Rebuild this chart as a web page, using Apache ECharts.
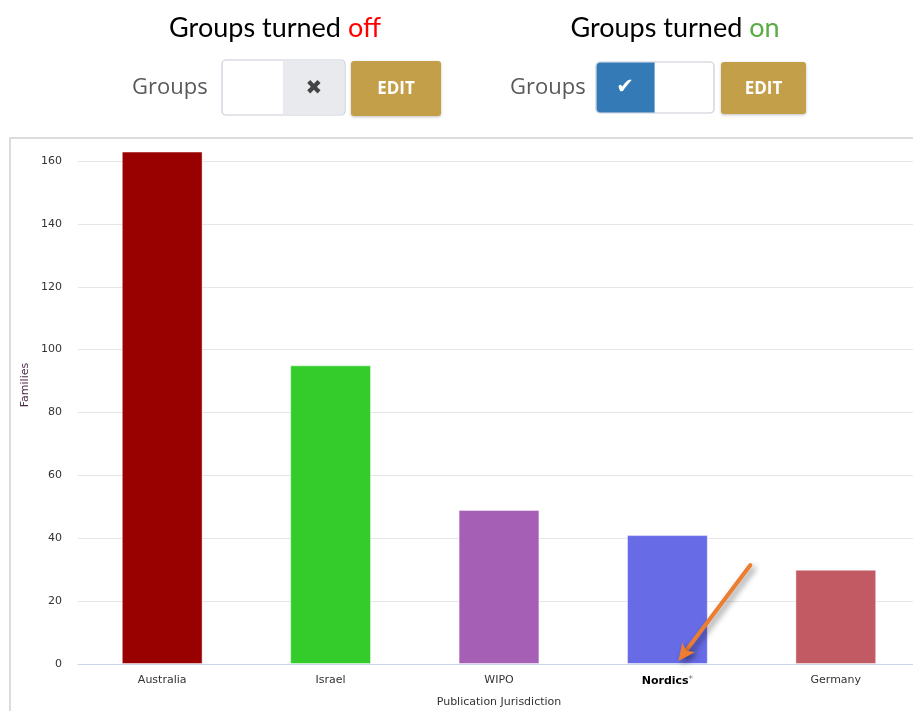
<!DOCTYPE html>
<html>
<head>
<meta charset="utf-8">
<script src="https://cdn.jsdelivr.net/npm/echarts@6/dist/echarts.min.js"></script>
<style>
html,body{margin:0;padding:0;background:#fff;overflow:hidden;}
#chart{width:913px;height:711px;}
</style>
</head>
<body>
<div id="chart"></div>
<script>
var categories = ['Australia', 'Israel', 'WIPO', 'Nordics', 'Germany'];
var families = [163, 95, 49, 41, 30];
var barColors = ['#990000', '#33cc2b', '#a55fb5', '#676ce6', '#c25a63'];
var yTicks = [0, 20, 40, 60, 80, 100, 120, 140, 160];

var chart = echarts.init(document.getElementById('chart'));
var FONT = 'DejaVu Sans';

function toggleGroup(labelX, boxX, boxW, splitW, editX, editW, on) {
  var els = [];
  els.push({type:'text', left:labelX, top:77, style:{text:'Groups', font:'22px "Open Sans"', fill:'#595959'}});
  els.push({type:'rect', shape:{x:boxX, y:on?62:60, width:boxW, height:on?51:55, r:4},
    style:{fill:'#ffffff', stroke:'#c8ccd8', lineWidth:1.2}});
  if (on) {
    els.push({type:'rect', shape:{x:boxX+0.6, y:62.6, width:splitW, height:49.8, r:[4,0,0,4]}, style:{fill:'#337ab7'}});
    els.push({type:'text', style:{text:'\u2714', x:boxX+splitW/2, y:88, align:'center', verticalAlign:'middle', font:'bold 21px "DejaVu Sans"', fill:'#ffffff'}});
  } else {
    els.push({type:'rect', shape:{x:boxX+splitW, y:60.6, width:boxW-splitW-0.6, height:53.8, r:[0,4,4,0]}, style:{fill:'#e9eaee'}});
    els.push({type:'text', style:{text:'\u2716', x:boxX+splitW+(boxW-splitW)/2, y:89, align:'center', verticalAlign:'middle', font:'20px "DejaVu Sans"', fill:'#444444'}});
  }
  els.push({type:'rect', shape:{x:editX, y:on?62:61, width:editW, height:on?52:55, r:3},
    style:{fill:'#c49f4a', shadowBlur:3, shadowColor:'rgba(0,0,0,0.25)', shadowOffsetY:1}});
  els.push({type:'text', style:{text:'EDIT', x:editX+editW/2, y:89, align:'center', verticalAlign:'middle', font:'bold 17px "Open Sans"', fill:'#ffffff'}});
  return els;
}

var graphics = [
  {type:'rect', z:-10, shape:{x:10, y:138, width:1000, height:700}, style:{fill:'none', stroke:'#dcdcdc', lineWidth:2}},
  {type:'text', style:{x:275, y:28, align:'center', verticalAlign:'middle',
    rich:{a:{font:'27px Lato', fill:'#000000'}, b:{font:'27px Lato', fill:'#ff0000'}},
    text:'{a|Groups turned }{b|off}'}},
  {type:'text', style:{x:675, y:28, align:'center', verticalAlign:'middle',
    rich:{a:{font:'27px Lato', fill:'#000000'}, b:{font:'27px Lato', fill:'#5aac44'}},
    text:'{a|Groups turned }{b|on}'}},
  {type:'text', rotation:Math.PI/2, x:25, y:385,
    style:{text:'Families', align:'center', verticalAlign:'middle', font:'11px "DejaVu Sans"', fill:'#4b2a46'}}
].concat(toggleGroup(132, 222, 123, 61, 351, 90, false))
 .concat(toggleGroup(510, 596, 118, 58, 721, 85, true));

chart.setOption({
  animation:false,
  grid:{left:78, width:842, top:161, height:503, containLabel:false, outerBoundsMode:'none'},
  xAxis:{
    type:'category', data:categories,
    name:'Publication Jurisdiction', nameLocation:'middle', nameGap:33,
    nameTextStyle:{fontFamily:FONT, fontSize:11, color:'#333333'},
    axisLine:{lineStyle:{color:'#ccd6eb', width:1}},
    axisTick:{show:false},
    axisLabel:{fontFamily:FONT, fontSize:11, color:'#333333', margin:11,
      formatter:function(v){ return v === 'Nordics' ? '{b|Nordics}{s|*}' : v; },
      rich:{b:{fontFamily:FONT, fontSize:11, fontWeight:'bold', color:'#000000'},
            s:{fontFamily:FONT, fontSize:9, color:'#777777', verticalAlign:'top', padding:[0,0,3,0]}}}
  },
  yAxis:{
    type:'value', min:yTicks[0], max:yTicks[yTicks.length-1], interval:yTicks[1]-yTicks[0],
    axisLine:{show:false}, axisTick:{show:false},
    axisLabel:{fontFamily:FONT, fontSize:11, color:'#333333', margin:16},
    splitLine:{lineStyle:{color:'#e6e6e6', width:1}}
  },
  series:[{
    type:'bar', data:families.map(function(v,i){ return {value:v, itemStyle:{color:barColors[i]}}; }),
    barWidth:'48%', clip:false,
    itemStyle:{borderColor:'rgba(255,255,255,0.45)', borderWidth:1}
  }],
  graphic:graphics
});

// orange annotation arrow pointing at the Nordics bar base
var base = chart.convertToPixel({xAxisIndex:0, yAxisIndex:0}, ['Nordics', 0]);
var tip = [base[0]+11, base[1]-3];
var tail = [base[0]+83, base[1]-99];
var dx = tip[0]-tail[0], dy = tip[1]-tail[1], len = Math.sqrt(dx*dx+dy*dy);
var ux = dx/len, uy = dy/len, px = -uy, py = ux;
var hl = 17, hw = 8;
var hb = [tip[0]-ux*hl, tip[1]-uy*hl];
var shadow = {shadowBlur:6, shadowColor:'rgba(0,0,0,0.45)', shadowOffsetX:3, shadowOffsetY:3};
graphics.push({type:'line', z:100, shape:{x1:tail[0], y1:tail[1], x2:hb[0]+ux*3, y2:hb[1]+uy*3},
  style:Object.assign({stroke:'#ed7d31', lineWidth:4, lineCap:'round'}, shadow)});
graphics.push({type:'polygon', z:100, shape:{points:[tip, [hb[0]+px*hw, hb[1]+py*hw], [hb[0]+ux*4, hb[1]+uy*4], [hb[0]-px*hw, hb[1]-py*hw]]},
  style:Object.assign({fill:'#ed7d31'}, shadow)});
chart.setOption({graphic:graphics});
</script>
</body>
</html>
